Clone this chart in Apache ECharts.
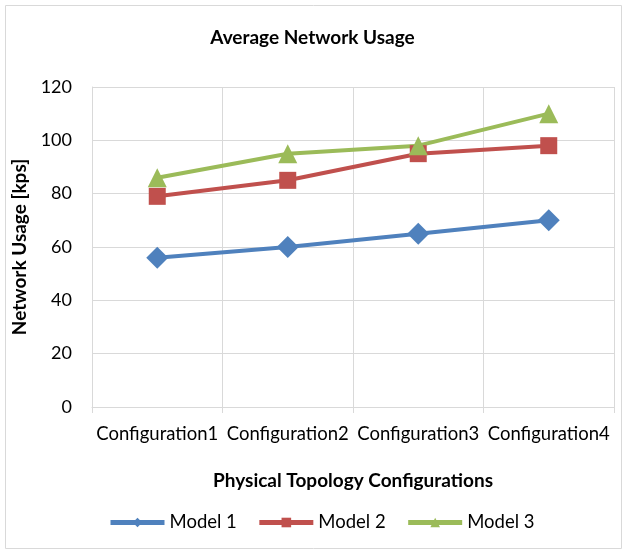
<!DOCTYPE html>
<html>
<head>
<meta charset="utf-8">
<script src="https://cdn.jsdelivr.net/npm/echarts@6/dist/echarts.min.js"></script>
<style>
  html, body { margin: 0; padding: 0; background: #fff; }
  #main { width: 625px; height: 552px; }
</style>
</head>
<body>
<div id="main"></div>
<script>
var categories = ['Configuration1', 'Configuration2', 'Configuration3', 'Configuration4'];
var model1 = [56, 60, 65, 70];
var model2 = [79, 85, 95, 98];
var model3 = [86, 95, 98, 110];
var yTicks = [0, 20, 40, 60, 80, 100, 120];

var chart = echarts.init(document.getElementById('main'));
var font = 'Lato, "Liberation Sans", sans-serif';
var gridColor = '#d9d9d9';

function lineSeries(name, data, color, symbol, size) {
    return {
        name: name,
        type: 'line',
        data: data,
        symbol: symbol,
        symbolSize: size,
        lineStyle: { width: 4, color: color },
        itemStyle: { color: color },
        emphasis: { disabled: true }
    };
}

var option = {
    animation: false,
    textStyle: { fontFamily: font },
    title: {
        text: 'Average Network Usage',
        left: 'center',
        top: 23,
        textStyle: { fontFamily: font, fontSize: 19, fontWeight: 'bold', color: '#000' }
    },
    graphic: [{
        type: 'rect',
        shape: { x: 5.5, y: 5.5, width: 616, height: 543 },
        style: { fill: 'none', stroke: gridColor, lineWidth: 1 },
        silent: true
    }],
    grid: { left: 92, right: 11, top: 87, bottom: 145 },
    legend: {
        top: 508,
        left: 103,
        itemWidth: 54,
        itemHeight: 12,
        itemGap: 20,
        lineStyle: { width: 5 },
        textStyle: { fontFamily: font, fontSize: 18.5, color: '#000' },
        data: ['Model 1', 'Model 2', 'Model 3']
    },
    xAxis: {
        type: 'category',
        data: categories,
        boundaryGap: true,
        name: 'Physical Topology Configurations',
        nameLocation: 'middle',
        nameGap: 64,
        nameTextStyle: { fontFamily: font, fontSize: 19, fontWeight: 'bold', color: '#000' },
        axisLine: { lineStyle: { color: gridColor, width: 1 } },
        axisTick: { show: true, length: 6, lineStyle: { color: gridColor } },
        splitLine: { show: true, lineStyle: { color: gridColor, width: 1 } },
        axisLabel: { fontFamily: font, fontSize: 18.5, color: '#000', margin: 18, interval: 0 }
    },
    yAxis: {
        type: 'value',
        min: yTicks[0],
        max: yTicks[yTicks.length - 1],
        interval: yTicks[1] - yTicks[0],
        name: 'Network Usage [kps]',
        nameLocation: 'middle',
        nameGap: 61,
        nameRotate: 90,
        nameTextStyle: { fontFamily: font, fontSize: 19, fontWeight: 'bold', color: '#000' },
        axisLine: { show: true, lineStyle: { color: gridColor, width: 1 } },
        axisTick: { show: false },
        splitLine: { show: true, lineStyle: { color: gridColor, width: 1 } },
        axisLabel: { fontFamily: font, fontSize: 18, color: '#000', margin: 20 }
    },
    series: [
        lineSeries('Model 1', model1, '#4f81bd', 'diamond', 22),
        lineSeries('Model 2', model2, '#c0504d', 'rect', 17),
        lineSeries('Model 3', model3, '#9bbb59', 'triangle', 19)
    ]
};

chart.setOption(option);
</script>
</body>
</html>
